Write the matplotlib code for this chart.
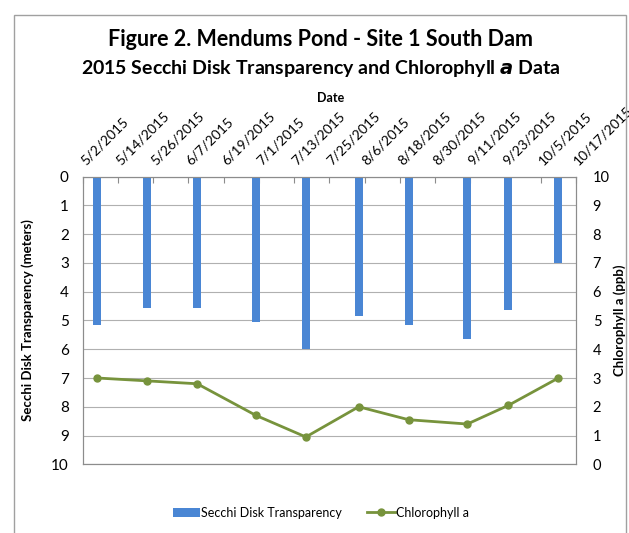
"""Mendums Pond Site 1 South Dam - Secchi depth and chlorophyll a, 2015."""
from datetime import date, timedelta

import matplotlib
matplotlib.use("Agg")
import matplotlib.dates as mdates
import matplotlib.pyplot as plt
from matplotlib.patches import Rectangle

plt.rcParams["font.family"] = ["Lato", "DejaVu Sans"]

# sampling dates and readings
sample_dates = [
    date(2015, 5, 7), date(2015, 5, 24), date(2015, 6, 10), date(2015, 6, 30),
    date(2015, 7, 17), date(2015, 8, 4), date(2015, 8, 21), date(2015, 9, 10),
    date(2015, 9, 24), date(2015, 10, 11),
]
secchi_m = [5.15, 4.55, 4.55, 5.05, 6.0, 4.85, 5.15, 5.65, 4.65, 3.0]
chlorophyll_ppb = [3.0, 2.9, 2.8, 1.7, 0.95, 2.0, 1.55, 1.4, 2.05, 3.0]

axis_start = date(2015, 5, 2)
axis_end = date(2015, 10, 17)
tick_dates = [axis_start + timedelta(days=12 * i) for i in range(15)]
tick_labels = [f"{d.month}/{d.day}/{d.year}" for d in tick_dates]

COLOR_BAR = "#4A86D4"
COLOR_LINE = "#77933C"
COLOR_AXIS = "#8C8C8C"

fig = plt.figure(figsize=(6.29, 5.33), dpi=100)
fig.patches.append(Rectangle((14 / 629, -0.01), 612 / 629, 1 - 15 / 533 + 0.01,
                             transform=fig.transFigure, fill=False,
                             edgecolor="#A0A0A0", lw=1.0))

ax = fig.add_axes([0.1315, 0.1289, 0.7842, 0.5396])
x = mdates.date2num(sample_dates)
ax.bar(x, secchi_m, width=2.7, color=COLOR_BAR, label="Secchi Disk Transparency", zorder=3)
ax.set_ylim(10, 0)
ax.set_yticks(range(0, 11))
ax.set_xlim(mdates.date2num(axis_start), mdates.date2num(axis_end))
ax.set_xticks(mdates.date2num(tick_dates))
ax.xaxis.tick_top()
ax.set_xticklabels(tick_labels, rotation=45, ha="left", va="center",
                   rotation_mode="anchor", fontsize=10)
ax.tick_params(axis="x", direction="in", length=4, color=COLOR_AXIS, pad=10)
ax.tick_params(axis="y", length=0, labelsize=11, pad=10)
ax.grid(axis="y", color="#B0B0B0", lw=0.8, zorder=0)
for s in ax.spines.values():
    s.set_color(COLOR_AXIS)
ax.set_ylabel("Secchi Disk Transparency (meters)", fontsize=9.5, fontweight="bold", labelpad=12)

ax2 = ax.twinx()
ln, = ax2.plot(x, chlorophyll_ppb, color=COLOR_LINE, lw=2, marker="o", markersize=5,
               label="Chlorophyll a", zorder=4)
ax2.set_ylim(0, 10)
ax2.set_yticks(range(0, 11))
ax2.tick_params(axis="y", length=0, labelsize=10.5, pad=12)
for s in ax2.spines.values():
    s.set_color(COLOR_AXIS)
ax2.set_ylabel("Chlorophyll a (ppb)", fontsize=9.5, fontweight="bold", labelpad=3)

fig.text(0.509, 0.925, "Figure 2. Mendums Pond - Site 1 South Dam",
         ha="center", va="center", fontsize=15.5, fontweight="bold")
fig.text(0.509, 0.872, "2015 Secchi Disk Transparency and Chlorophyll $\\mathbfit{a}$ Data",
         ha="center", va="center", fontsize=14, fontweight="bold")
fig.text(0.525, 0.816, "Date", ha="center", va="center", fontsize=9, fontweight="bold")

handles = [ax.containers[0], ln]
fig.legend(handles, ["Secchi Disk Transparency", "Chlorophyll a"], loc="center",
           bbox_to_anchor=(0.51, 0.038), ncol=2, frameon=False, fontsize=9,
           handlelength=2.2, columnspacing=2.0, handletextpad=0.1)

fig.savefig("out.png", dpi=100)
